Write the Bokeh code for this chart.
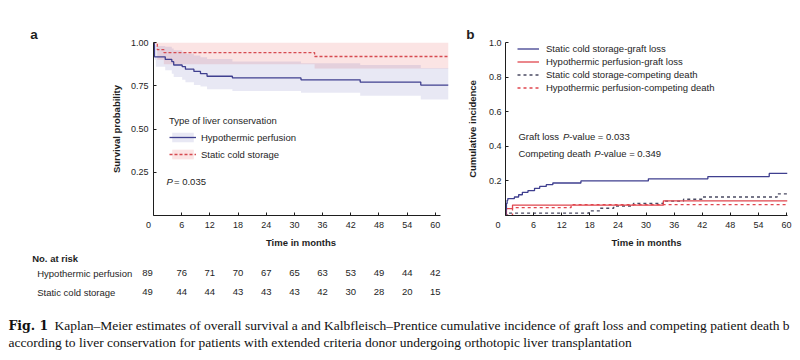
from bokeh.plotting import figure
from bokeh.models import Range1d, FixedTicker, PrintfTickFormatter, Label, Legend, LegendItem
from bokeh.layouts import row, column
from bokeh.embed import file_html
from bokeh.resources import INLINE

SANS = "Liberation Sans"
SERIF = "Liberation Serif"
INK = "#1e1e1e"
NAVY = "#3F3F8F"
RED_A = "#D64A50"
RED_B = "#E0464E"
GREY = "#4A4A62"

# ---------------- data ----------------
month_ticks = [0, 6, 12, 18, 24, 30, 36, 42, 48, 54, 60]

# Panel a: Kaplan-Meier overall survival
hp_time = [0, 0.2, 2.5, 3.9, 4.3, 6.1, 6.8, 8.6, 10.0, 11.4, 16.8, 31.4, 44.0, 56.9, 62.8]
hp_surv = [1.0, 0.917, 0.902, 0.889, 0.870, 0.861, 0.846, 0.833, 0.820, 0.805, 0.795, 0.784, 0.771, 0.754, 0.754]
hp_ci_time = [0, 0.2, 0.5, 2.5, 3.9, 4.3, 6.1, 6.8, 8.6, 10.0, 11.4, 16.8, 31.4, 44.0, 56.9, 62.8]
hp_ci_low = [1.0, 0.90, 0.86, 0.84, 0.82, 0.80, 0.785, 0.77, 0.755, 0.745, 0.73, 0.72, 0.71, 0.692, 0.67, 0.67]
hp_ci_high = [1.0, 0.985, 0.98, 0.975, 0.965, 0.955, 0.945, 0.935, 0.925, 0.915, 0.905, 0.89, 0.88, 0.87, 0.852, 0.852]

scs_time = [0, 0.8, 2.2, 34.3, 62.8]
scs_surv = [1.0, 0.959, 0.942, 0.919, 0.919]
scs_ci_low = [1.0, 0.90, 0.875, 0.85, 0.85]
scs_ci_high = [1.0, 1.0, 1.0, 1.0, 1.0]

risk_groups = ["Hypothermic perfusion", "Static cold storage"]
risk_hp = [89, 76, 71, 70, 67, 65, 63, 53, 49, 44, 42]
risk_scs = [49, 44, 44, 43, 43, 43, 42, 30, 28, 20, 15]

# Panel b: cumulative incidence
gl_scs_time = [0, 0.1, 0.2, 0.35, 0.5, 1.9, 2.8, 3.6, 4.8, 6.2, 7.3, 8.7, 10.1, 16.1, 30.5, 43.2, 56.3, 60.2]
gl_scs_cif = [0, 0.035, 0.07, 0.088, 0.098, 0.107, 0.12, 0.134, 0.144, 0.157, 0.168, 0.178, 0.188, 0.200, 0.212, 0.225, 0.243, 0.243]
gl_hp_time = [0, 0.2, 1.5, 33.7, 60.2]
gl_hp_cif = [0, 0.04, 0.06, 0.085, 0.085]
cd_scs_time = [0, 0.3, 17.8, 20.2, 23.1, 27.3, 33.7, 38.0, 42.0, 58.0, 60.2]
cd_scs_cif = [0, 0.014, 0.027, 0.042, 0.055, 0.070, 0.083, 0.094, 0.107, 0.125, 0.125]
cd_hp_time = [0, 1.5, 14.0, 60.2]
cd_hp_cif = [0, 0.045, 0.063, 0.063]

caption_1 = ("Kaplan\u2013Meier estimates of overall survival a and Kalbfleisch\u2013Prentice cumulative "
             "incidence of graft loss and competing patient death b")
caption_2 = ("according to liver conservation for patients with extended criteria donor undergoing "
             "orthotopic liver transplantation")


def steps(t, v):
    xs, ys = [], []
    for i in range(len(t) - 1):
        xs += [t[i], t[i + 1]]
        ys += [v[i], v[i]]
    xs.append(t[-1])
    ys.append(v[-1])
    return xs, ys


def lab(p, x, y, text, size="9.5px", style="normal", align="left", font=SANS, x_offset=0, color=INK):
    p.add_layout(Label(x=x, y=y, text=text, text_font=font, text_font_size=size,
                       text_font_style=style, text_align=align, text_baseline="middle",
                       x_offset=x_offset, text_color=color))


def style_axes(p):
    p.outline_line_color = None
    p.grid.visible = False
    for ax in (p.xaxis[0], p.yaxis[0]):
        ax.axis_line_color = INK
        ax.major_tick_line_color = INK
        ax.major_tick_in = 3
        ax.major_tick_out = 0
        ax.minor_tick_line_color = None
        ax.major_label_text_font = SANS
        ax.major_label_text_font_size = "9px"
        ax.major_label_text_color = INK
        ax.axis_label_text_font = SANS
        ax.axis_label_text_font_size = "9.5px"
        ax.axis_label_text_font_style = "bold"
        ax.axis_label_text_color = INK


def style_title(p, offset):
    p.title.align = "left"
    p.title.offset = offset
    p.title.text_font = SANS
    p.title.text_font_size = "13.5px"
    p.title.text_font_style = "bold"
    p.title.text_color = INK
    p.title.standoff = 2


# ---------------- panel a ----------------
XA_MAX = 62.8
pa = figure(width=463, height=250, x_range=Range1d(0, XA_MAX), y_range=Range1d(0, 1.0),
            output_backend="svg", toolbar_location=None, title="a",
            min_border_left=153, min_border_right=15, min_border_top=42, min_border_bottom=30)
style_axes(pa)
style_title(pa, -123.3)
pa.xaxis.ticker = FixedTicker(ticks=month_ticks, minor_ticks=[])
pa.xaxis.major_label_overrides = {0: "0\u2007\u2007"}
pa.xaxis.bounds = (0, 61)
pa.yaxis.ticker = FixedTicker(ticks=[0.25, 0.5, 0.75, 1.0], minor_ticks=[])
pa.yaxis.formatter = PrintfTickFormatter(format="%.2f")
pa.xaxis.axis_label = "Time in months"
pa.yaxis.axis_label = "Survival probability"
pa.xaxis.major_label_standoff = 4
pa.xaxis.axis_label_standoff = 4
pa.yaxis.major_label_standoff = 5
pa.yaxis.axis_label_standoff = 6


def a_x(px):
    return (px - 153) * XA_MAX / 295


def a_y(py):
    return (220 - py) / 178


sx, slo = steps(scs_time, scs_ci_low)
_, shi = steps(scs_time, scs_ci_high)
r_scs_band = pa.varea(x=sx, y1=slo, y2=shi, fill_color="#E85050", fill_alpha=0.155)
hx, hlo = steps(hp_ci_time, hp_ci_low)
_, hhi = steps(hp_ci_time, hp_ci_high)
r_hp_band = pa.varea(x=hx, y1=hlo, y2=hhi, fill_color="#5050AB", fill_alpha=0.13)

lx, ly = steps(hp_time, hp_surv)
r_hp = pa.line(lx, ly, line_color=NAVY, line_width=1.3)
lx, ly = steps(scs_time, scs_surv)
r_scs = pa.line(lx, ly, line_color=RED_A, line_width=1.3, line_dash="3 2")

leg_a = Legend(items=[LegendItem(label="Hypothermic perfusion", renderers=[r_hp_band, r_hp]),
                      LegendItem(label="Static cold storage", renderers=[r_scs_band, r_scs])],
               location=(16, 55), title="Type of liver conservation")
leg_a.title_text_font = SANS
leg_a.title_text_font_size = "9.5px"
leg_a.title_text_font_style = "normal"
leg_a.title_text_color = INK
leg_a.title_standoff = 5
leg_a.label_text_font = SANS
leg_a.label_text_font_size = "9.5px"
leg_a.label_text_color = INK
leg_a.glyph_width = 27
leg_a.glyph_height = 12
leg_a.label_height = 12
leg_a.label_standoff = 5
leg_a.spacing = 5
leg_a.padding = 0
leg_a.margin = 0
leg_a.border_line_color = None
leg_a.background_fill_alpha = 0
pa.add_layout(leg_a)

lab(pa, a_x(166), a_y(185), "P", style="italic")
lab(pa, a_x(173.5), a_y(185), "= 0.035")

# ---------------- risk table (below panel a, same month scale) ----------------
pr = figure(width=463, height=50, x_range=Range1d(a_x(0), a_x(463)), y_range=Range1d(50, 0),
            output_backend="svg", toolbar_location=None, title=None, min_border=0,
            x_axis_type=None, y_axis_type=None)
pr.outline_line_color = None
pr.grid.visible = False
lab(pr, a_x(31.7), 8.3, "No. at risk", style="bold")
for name, counts, py in zip(risk_groups, [risk_hp, risk_scs], [22.7, 41.7]):
    lab(pr, a_x(36.7), py, name)
    for t, n in zip(month_ticks, counts):
        lab(pr, t, py, str(n), align="center", x_offset=(-6 if t == 0 else 0))

# ---------------- panel b ----------------
XB_MAX = 60.2
pb = figure(width=337, height=250, x_range=Range1d(0, XB_MAX), y_range=Range1d(0, 1.0),
            output_backend="svg", toolbar_location=None, title="b",
            min_border_left=40, min_border_right=13, min_border_top=42, min_border_bottom=30)
style_axes(pb)
style_title(pb, -39.3)
pb.xaxis.ticker = FixedTicker(ticks=month_ticks, minor_ticks=[])
pb.xaxis.major_label_overrides = {0: "0\u2007\u2007\u2007"}
pb.yaxis.ticker = FixedTicker(ticks=[0.2, 0.4, 0.6, 0.8, 1.0], minor_ticks=[])
pb.yaxis.formatter = PrintfTickFormatter(format="%.1f")
pb.xaxis.axis_label = "Time in months"
pb.yaxis.axis_label = "Cumulative incidence"
pb.xaxis.major_label_standoff = 4
pb.xaxis.axis_label_standoff = 4
pb.yaxis.major_label_standoff = 4
pb.yaxis.axis_label_standoff = 8


def b_x(px):
    return (px - 503) * XB_MAX / 284


def b_y(py):
    return (220 - py) / 178


x1, y1 = steps(cd_scs_time, cd_scs_cif)
r_cd_scs = pb.line(x1, y1, line_color=GREY, line_width=1.3, line_dash="3 3")
x1, y1 = steps(cd_hp_time, cd_hp_cif)
r_cd_hp = pb.line(x1, y1, line_color=RED_B, line_width=1.3, line_dash="3 3")
x1, y1 = steps(gl_hp_time, gl_hp_cif)
r_gl_hp = pb.line(x1, y1, line_color=RED_B, line_width=1.3)
x1, y1 = steps(gl_scs_time, gl_scs_cif)
r_gl_scs = pb.line(x1, y1, line_color=NAVY, line_width=1.3)

leg_b = Legend(items=[LegendItem(label="Static cold storage-graft loss", renderers=[r_gl_scs]),
                      LegendItem(label="Hypothermic perfusion-graft loss", renderers=[r_gl_hp]),
                      LegendItem(label="Static cold storage-competing death", renderers=[r_cd_scs]),
                      LegendItem(label="Hypothermic perfusion-competing death", renderers=[r_cd_hp])],
               location=(12, 121))
leg_b.label_text_font = SANS
leg_b.label_text_font_size = "9.5px"
leg_b.label_text_color = INK
leg_b.glyph_width = 22
leg_b.glyph_height = 13
leg_b.label_height = 13
leg_b.label_standoff = 7
leg_b.spacing = 0
leg_b.padding = 0
leg_b.margin = 0
leg_b.border_line_color = None
leg_b.background_fill_alpha = 0
pb.add_layout(leg_b)

lab(pb, b_x(516), b_y(139), "Graft loss")
lab(pb, b_x(561), b_y(139), "P", style="italic")
lab(pb, b_x(567.3), b_y(139), "-value = 0.033")
lab(pb, b_x(516), b_y(156.7), "Competing death")
lab(pb, b_x(592.5), b_y(156.7), "P", style="italic")
lab(pb, b_x(598.8), b_y(156.7), "-value = 0.349")

# ---------------- caption ----------------
pc = figure(width=800, height=60, x_range=Range1d(0, 800), y_range=Range1d(60, 0),
            output_backend="svg", toolbar_location=None, title=None, min_border=0,
            x_axis_type=None, y_axis_type=None)
pc.outline_line_color = None
pc.grid.visible = False
lab(pc, 8, 25, "Fig. 1", size="12.5px", style="bold", font="DejaVu Serif", color="#111111")
lab(pc, 54, 25, caption_1, size="13.5px", font=SERIF, color="#111111")
lab(pc, 8, 41.5, caption_2, size="13.5px", font=SERIF, color="#111111")

layout = column(row(pa, pb), pr, pc)
open("out.html", "w").write(file_html(layout, INLINE))
